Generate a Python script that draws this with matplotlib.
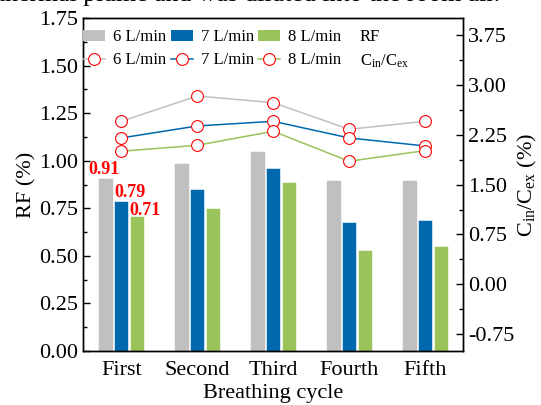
import matplotlib
matplotlib.use('Agg')
import matplotlib.pyplot as plt
import numpy as np
from matplotlib.patches import Patch
from matplotlib.lines import Line2D
from matplotlib.ticker import MultipleLocator, FormatStrFormatter

plt.rcParams['font.family'] = ['Liberation Serif', 'DejaVu Serif']
plt.rcParams['mathtext.fontset'] = 'custom'
plt.rcParams['mathtext.rm'] = 'Liberation Serif'
plt.rcParams['mathtext.it'] = 'Liberation Serif:italic'

# Data.
cycles = ['First', 'Second', 'Third', 'Fourth', 'Fifth']
flows = ['6 L/min', '7 L/min', '8 L/min']
rf_6 = [0.91, 0.99, 1.05, 0.90, 0.90]
rf_7 = [0.79, 0.85, 0.96, 0.68, 0.69]
rf_8 = [0.71, 0.75, 0.89, 0.53, 0.55]
ratio_6 = [2.45, 2.83, 2.73, 2.33, 2.45]
ratio_7 = [2.20, 2.38, 2.45, 2.20, 2.08]
ratio_8 = [2.00, 2.09, 2.30, 1.85, 2.01]
first_labels = ['0.91', '0.79', '0.71']

colors = ['#c0c0c0', '#0068ac', '#9bc35b']
rf_all = [rf_6, rf_7, rf_8]
ratio_all = [ratio_6, ratio_7, ratio_8]

fig = plt.figure(figsize=(5.41, 4.05), dpi=100)
ax = fig.add_axes([0.154, 0.1333, 0.702, 0.822])
ax2 = ax.twinx()

x = np.arange(len(cycles))
w = 0.188
step = 0.207

for i in range(3):
    ax.bar(x + (i - 1) * step, rf_all[i], width=w, color=colors[i],
           edgecolor='white', linewidth=0.4, zorder=2)

# red value labels on the first group
offs_x = [-0.23, -0.09, -0.10]
offs_y = [0.02, 0.02, 0.005]
for i in range(3):
    ax.text((i - 1) * step + offs_x[i], rf_all[i][0] + offs_y[i], first_labels[i],
            color='red', fontsize=13, fontweight='bold', ha='left', va='baseline')

for i in range(3):
    ax2.plot(x, ratio_all[i], color=colors[i], lw=1.1, marker='o', ms=8.5,
             mfc='white', mec='red', mew=0.8, zorder=3)

ax.set_xlim(-0.5, 4.5)
ax.set_ylim(0, 1.75)
ax2.set_ylim(-1.0, 4.0)

ax.set_xticks(x)
ax.set_xticklabels(cycles)
ax.yaxis.set_major_locator(MultipleLocator(0.25))
ax.yaxis.set_minor_locator(MultipleLocator(0.125))
ax.yaxis.set_major_formatter(FormatStrFormatter('%.2f'))
ax2.yaxis.set_major_locator(MultipleLocator(0.75))
ax2.yaxis.set_minor_locator(MultipleLocator(0.375))
ax2.yaxis.set_major_formatter(FormatStrFormatter('%.2f'))

for a in (ax, ax2):
    a.tick_params(which='major', direction='in', length=5, width=1, labelsize=16)
    a.tick_params(which='minor', direction='in', length=3, width=1)
    for s in a.spines.values():
        s.set_linewidth(1.0)
ax.tick_params(axis='x', which='minor', bottom=False)
ax.tick_params(axis='x', pad=7)
ax.tick_params(axis='y', right=False)
ax2.tick_params(axis='y', left=False)

ax.set_ylabel('RF (%)', fontsize=16, labelpad=2)
ax.set_xlabel('Breathing cycle', fontsize=16, labelpad=3)
ax2.set_ylabel('C$_{\\rm in}$/C$_{\\rm ex}$ (%)', fontsize=16, labelpad=1)

# legend: bars and lines, three columns
handles = []
labels = []
for i in range(3):
    handles.append(Patch(facecolor=colors[i], edgecolor='none'))
    labels.append(flows[i])
    handles.append(Line2D([], [], color=colors[i], lw=1.1, marker='o', ms=8.5,
                          mfc='white', mec='red', mew=0.8))
    labels.append(flows[i])
leg = ax2.legend(handles, labels, ncol=3, loc='upper left', frameon=False, fontsize=12,
                 handlelength=1.32, handletextpad=0.48, columnspacing=0.25,
                 borderaxespad=0, borderpad=0, labelspacing=0.42,
                 bbox_to_anchor=(0.0, 0.966))
ax2.add_artist(leg)

# text-only column naming the two groups
blank = Patch(facecolor='none', edgecolor='none')
ax2.legend([blank, blank], ['RF', 'C$_{\\rm in}$/C$_{\\rm ex}$'], loc='upper left',
           frameon=False, fontsize=12, handlelength=0, handletextpad=0,
           borderaxespad=0, borderpad=0, labelspacing=0.42,
           bbox_to_anchor=((360 - 83.3) / 380, 0.966))

# bottom edge of the page text above the figure
fig.text(500 / 541, 1 - 1.5 / 405, 'thermal plume and was diluted into the room air.',
         fontsize=18.5, ha='right', va='baseline')

fig.savefig('out.png', dpi=100)
